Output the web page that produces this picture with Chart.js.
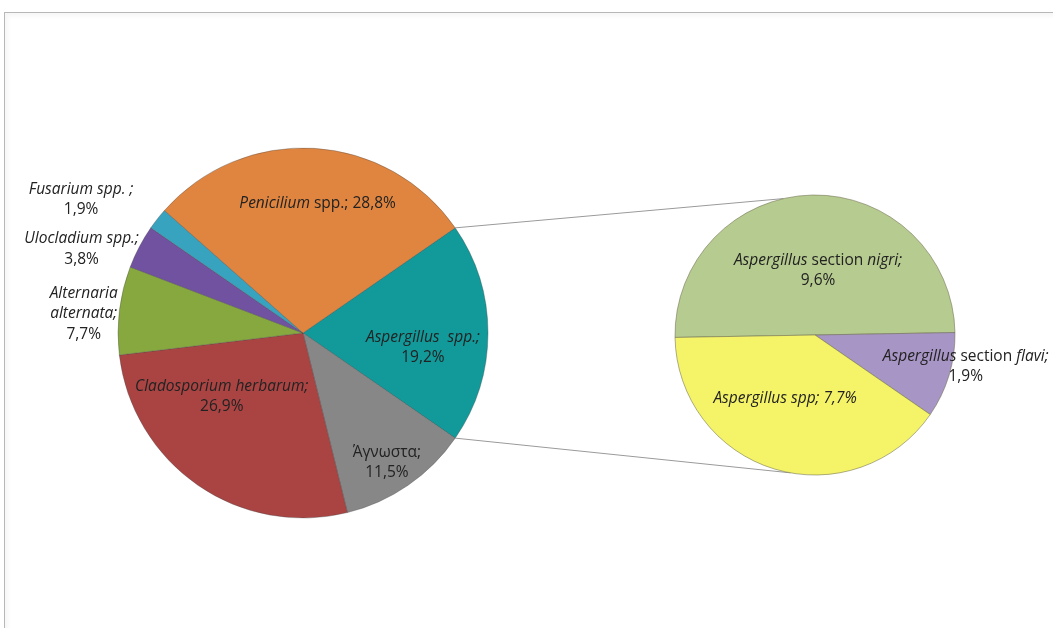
<!DOCTYPE html>
<html><head><meta charset="utf-8">
<script src="https://cdn.jsdelivr.net/npm/chart.js@4.4.0/dist/chart.umd.min.js"></script>
<style>
html,body{margin:0;padding:0;background:#fff;}
#wrap{position:relative;width:1053px;height:628px;overflow:hidden;background:#fff;}
#frame{position:absolute;left:4px;top:12px;width:1080px;height:660px;border-top:1px solid #b8b8b8;border-left:1px solid #b8b8b8;box-shadow:inset 3px 3px 4px rgba(0,0,0,0.04);}
canvas{position:absolute;left:0;top:0;}
</style></head><body>
<div id="wrap"><div id="frame"></div>
<canvas id="main" width="1053" height="628" style="width:1053px;height:628px"></canvas>
<canvas id="sub" width="1053" height="628" style="width:1053px;height:628px"></canvas>
</div>
<script>
// ---- data ----
const mainCategories = ['Aspergillus spp.', 'Άγνωστα', 'Cladosporium herbarum', 'Alternaria alternata', 'Ulocladium spp.', 'Fusarium spp.', 'Penicilium spp.'];
const mainValues = [19.2, 11.5, 26.9, 7.7, 3.8, 1.9, 28.8];
const subCategories = ['Aspergillus section nigri', 'Aspergillus section flavi', 'Aspergillus spp'];
const subValues = [9.6, 1.9, 7.7];

// label text templates (_..._ = italic, {v} = value)
const mainLabelLines = [
  ['_Aspergillus  spp.;_', '{v}'],
  ['Άγνωστα;', '{v}'],
  ['_Cladosporium herbarum;_', '{v}'],
  ['_Alternaria_', '_alternata;_', '{v}'],
  ['_Ulocladium spp.;_', '{v}'],
  ['_Fusarium spp. ;_', '{v}'],
  ['_Penicilium_ spp.; {v}']
];
const subLabelLines = [
  ['_Aspergillus_ section _nigri;_', '{v}'],
  ['_Aspergillus_ section _flavi;_', '{v}'],
  ['_Aspergillus spp; {v}_']
];

// ---- styles ----
const mainColors = ['#12999A', '#878787', '#A94443', '#87A83F', '#7152A0', '#38A3BE', '#DF8540'];
const subColors = ['#B6CB8F', '#A795C5', '#F5F468'];
// label placement: angle offset from slice middle (deg), radius factor
const mainLabelPos = [[6.9, 0.653], [1.7, 0.834], [17.3, 0.558], [-2.0, 1.19], [-7.0, 1.28], [-7.0, 1.40], [3.0, 0.706]];
const subLabelPos = [[3.7, 0.46], [-5, 1.10], [8.5, 0.50]];
const FONT_SIZE = 15.5, LINE_H = 20.5, TEXT_COLOR = '#222222', FONT_FAM = '"Open Sans", Lato, sans-serif';

function fmt(v) { return v.toFixed(1).replace('.', ',') + '%'; }

function drawRich(ctx, line, cx, cy) {
  const parts = line.split('_');
  const segs = parts.map((t, i) => ({t, it: i % 2 === 1})).filter(s => s.t.length);
  let w = 0;
  segs.forEach(s => { ctx.font = (s.it ? 'italic ' : '') + FONT_SIZE + 'px ' + FONT_FAM; s.w = ctx.measureText(s.t).width; w += s.w; });
  let x = cx - w / 2;
  segs.forEach(s => { ctx.font = (s.it ? 'italic ' : '') + FONT_SIZE + 'px ' + FONT_FAM; ctx.fillText(s.t, x, cy); x += s.w; });
}

function labelPlugin(lines, pos, values) {
  return {
    id: 'richLabels',
    afterDatasetsDraw(chart) {
      const ctx = chart.ctx;
      const arcs = chart.getDatasetMeta(0).data;
      ctx.save();
      ctx.fillStyle = TEXT_COLOR;
      ctx.textAlign = 'left';
      ctx.textBaseline = 'middle';
      arcs.forEach((el, i) => {
        const mid = (el.startAngle + el.endAngle) / 2 + pos[i][0] * Math.PI / 180;
        const r = el.outerRadius * pos[i][1];
        const cx = el.x + r * Math.cos(mid), cy = el.y + r * Math.sin(mid);
        const ls = lines[i].map(l => l.replace('{v}', fmt(values[i])));
        const y0 = cy - (ls.length - 1) * LINE_H / 2;
        ls.forEach((l, k) => drawRich(ctx, l, cx, y0 + k * LINE_H));
      });
      ctx.restore();
    }
  };
}

const mainSum = mainValues.reduce((a, b) => a + b, 0);

const mainChart = new Chart(document.getElementById('main'), {
  type: 'pie',
  data: { labels: mainCategories, datasets: [{ data: mainValues, backgroundColor: mainColors, borderColor: 'rgba(70,70,70,0.35)', borderWidth: 1 }] },
  options: {
    responsive: false, animation: false, events: [],
    rotation: 90 - (mainValues[0] / mainSum) * 180,
    radius: 185,
    layout: { padding: { left: 0, right: 447, top: 38, bottom: 0 } },
    plugins: { legend: { display: false }, tooltip: { enabled: false } }
  },
  plugins: [labelPlugin(mainLabelLines, mainLabelPos, mainValues)]
});

// connector target angles on secondary pie (deg, canvas convention)
const CONNECT_TOP = -103, CONNECT_BOTTOM = 100;
const connectorPlugin = {
  id: 'connectors',
  beforeDatasetsDraw(chart) {
    const a = mainChart.getDatasetMeta(0).data[0];
    const s = chart.getDatasetMeta(0).data[0];
    const ctx = chart.ctx;
    const p1 = [a.x + a.outerRadius * Math.cos(a.startAngle), a.y + a.outerRadius * Math.sin(a.startAngle)];
    const p2 = [a.x + a.outerRadius * Math.cos(a.endAngle), a.y + a.outerRadius * Math.sin(a.endAngle)];
    const t = CONNECT_TOP * Math.PI / 180, b = CONNECT_BOTTOM * Math.PI / 180;
    const q1 = [s.x + s.outerRadius * Math.cos(t), s.y + s.outerRadius * Math.sin(t)];
    const q2 = [s.x + s.outerRadius * Math.cos(b), s.y + s.outerRadius * Math.sin(b)];
    ctx.save();
    ctx.strokeStyle = '#9a9a9a';
    ctx.lineWidth = 1;
    ctx.beginPath();
    ctx.moveTo(p1[0], p1[1]); ctx.lineTo(q1[0], q1[1]);
    ctx.moveTo(p2[0], p2[1]); ctx.lineTo(q2[0], q2[1]);
    ctx.stroke();
    ctx.restore();
  }
};

const subChart = new Chart(document.getElementById('sub'), {
  type: 'pie',
  data: { labels: subCategories, datasets: [{ data: subValues, backgroundColor: subColors, borderColor: 'rgba(110,110,80,0.55)', borderWidth: 1 }] },
  options: {
    responsive: false, animation: false, events: [],
    rotation: -91,
    radius: 140,
    layout: { padding: { left: 577, right: 0, top: 42, bottom: 0 } },
    plugins: { legend: { display: false }, tooltip: { enabled: false } }
  },
  plugins: [connectorPlugin, labelPlugin(subLabelLines, subLabelPos, subValues)]
});
</script>
</body></html>
